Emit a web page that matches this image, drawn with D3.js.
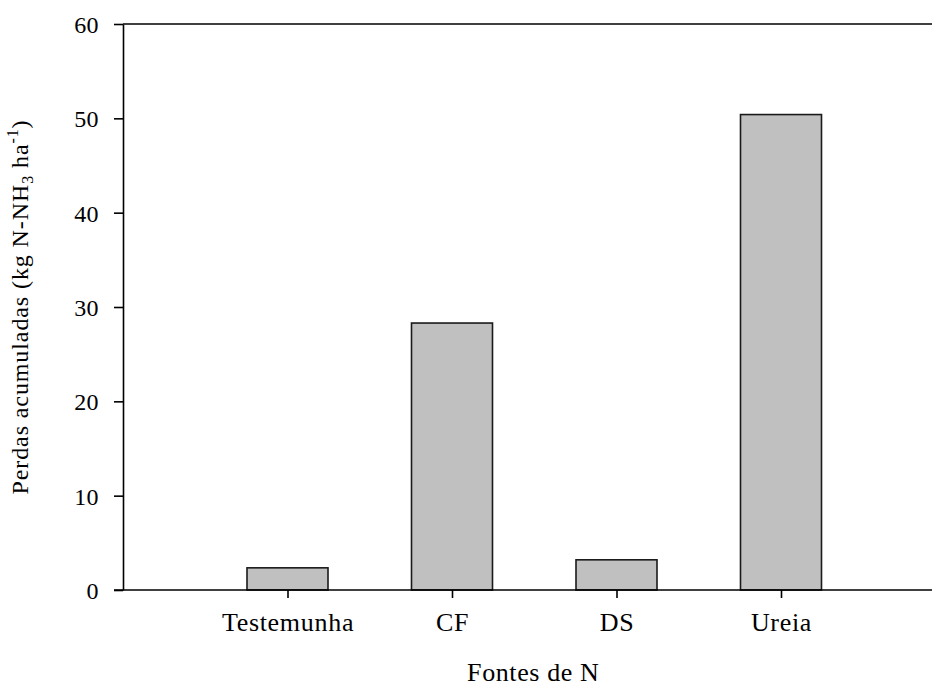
<!DOCTYPE html>
<html>
<head>
<meta charset="utf-8">
<script src="https://cdn.jsdelivr.net/npm/d3@7"></script>
<style>
  body { margin: 0; background: #fff; }
  svg { display: block; }
  text { font-family: "Liberation Serif", "Times New Roman", serif; fill: #000; }
</style>
</head>
<body>
<svg id="chart"></svg>
<script>
const categories = ['Testemunha', 'CF', 'DS', 'Ureia'];
const losses = [2.35, 28.3, 3.2, 50.4];
const yTicks = [0, 10, 20, 30, 40, 50, 60];

const W = 932, H = 686;
const margin = { top: 24, left: 123, bottom: 96 };
const plotRight = 945.5; // frame runs past the window edge

const svg = d3.select('#chart').attr('width', W).attr('height', H);

// Scales
const x = d3.scalePoint()
    .domain(categories)
    .range([margin.left, plotRight])
    .padding(1);

const y = d3.scaleLinear()
    .domain([0, 60])
    .range([H - margin.bottom, margin.top]);

// Bars
const barW = 81;
svg.selectAll('.bar')
    .data(categories)
    .enter().append('rect')
    .attr('class', 'bar')
    .attr('x', d => x(d) - barW / 2)
    .attr('y', (d, i) => y(losses[i]))
    .attr('width', barW)
    .attr('height', (d, i) => y(0) - y(losses[i]))
    .attr('fill', '#c0c0c0')
    .attr('stroke', '#1a1a1a')
    .attr('stroke-width', 1.6);

// top frame line
svg.append('line')
    .attr('x1', margin.left).attr('x2', W)
    .attr('y1', y(60)).attr('y2', y(60))
    .attr('stroke', '#000').attr('stroke-width', 1.6);

// y axis
const yAxis = svg.append('g')
    .attr('transform', `translate(${margin.left},0)`)
    .call(d3.axisLeft(y).tickValues(yTicks).tickSizeInner(9).tickSizeOuter(0).tickPadding(15));
yAxis.select('.domain').attr('stroke-width', 1.6);
yAxis.selectAll('.tick line').attr('stroke-width', 1.6);
yAxis.selectAll('text')
    .attr('font-size', 24)
    .attr('letter-spacing', 0.4)
    .attr('font-family', '"Liberation Serif", serif')
    .attr('dy', '0.35em');

// x axis (baseline)
const xAxis = svg.append('g')
    .attr('transform', `translate(0,${y(0)})`)
    .call(d3.axisBottom(x).tickSizeInner(8).tickSizeOuter(0).tickPadding(15));
xAxis.select('.domain').attr('d', `M${margin.left - 9},0H${W}`).attr('stroke-width', 1.6);
xAxis.selectAll('.tick line').attr('stroke-width', 1.6);
xAxis.selectAll('text')
    .attr('font-size', 26)
    .attr('letter-spacing', 0.7)
    .attr('font-family', '"Liberation Serif", serif');

// axis titles
svg.append('text')
    .attr('x', (margin.left + plotRight) / 2 - 1)
    .attr('y', 681)
    .attr('text-anchor', 'middle')
    .attr('font-size', 26)
    .attr('letter-spacing', 0.6)
    .text('Fontes de N');

const yTitle = svg.append('text')
    .attr('transform', `translate(28,${(y(0) + y(60)) / 2}) rotate(-90)`)
    .attr('text-anchor', 'middle')
    .attr('font-size', 24)
    .attr('letter-spacing', 0.9);
yTitle.append('tspan').text('Perdas acumuladas (kg N-NH');
yTitle.append('tspan').attr('font-size', 16).attr('dy', 5).text('3');
yTitle.append('tspan').attr('dy', -5).text(' ha');
yTitle.append('tspan').attr('font-size', 16).attr('dy', -10).text('-1');
yTitle.append('tspan').attr('dy', 10).text(')');
</script>
</body>
</html>
